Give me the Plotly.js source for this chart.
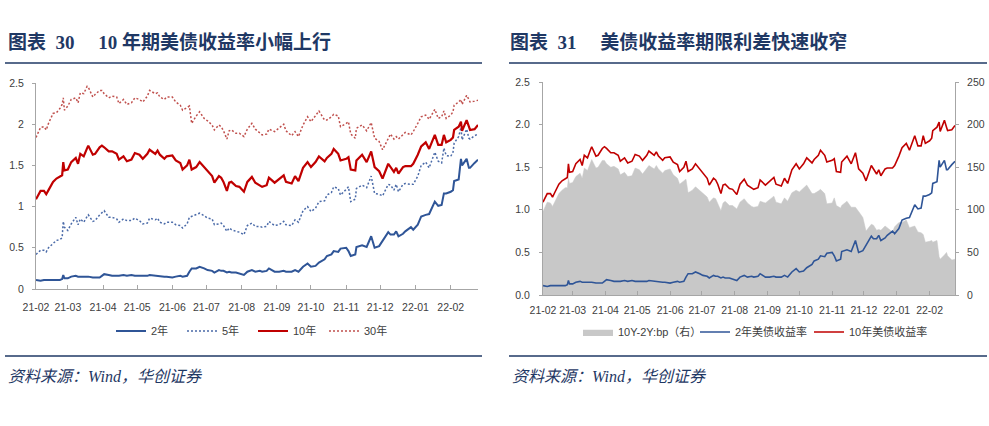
<!DOCTYPE html>
<html><head><meta charset="utf-8">
<script src="https://cdn.plot.ly/plotly-3.0.1.min.js"></script>
<style>html,body{margin:0;padding:0;background:#fff;}#chart{width:989px;height:426px;}</style>
</head><body><div id="chart"></div>
<script>
const dates = ["2021-02-01","2021-02-05","2021-02-08","2021-02-10","2021-02-12","2021-02-16","2021-02-19","2021-02-22","2021-02-24","2021-02-25","2021-02-26",
"2021-03-01","2021-03-04","2021-03-08","2021-03-10","2021-03-12","2021-03-15","2021-03-18","2021-03-19","2021-03-23","2021-03-25","2021-03-29","2021-03-31",
"2021-04-02","2021-04-06","2021-04-09","2021-04-13","2021-04-15","2021-04-19","2021-04-22","2021-04-26","2021-04-29",
"2021-05-03","2021-05-06","2021-05-10","2021-05-12","2021-05-17","2021-05-19","2021-05-21","2021-05-25","2021-05-27",
"2021-06-01","2021-06-04","2021-06-08","2021-06-10","2021-06-14","2021-06-16","2021-06-18","2021-06-22","2021-06-25","2021-06-29",
"2021-07-02","2021-07-06","2021-07-08","2021-07-12","2021-07-14","2021-07-16","2021-07-19","2021-07-21","2021-07-23","2021-07-27","2021-07-30",
"2021-08-03","2021-08-06","2021-08-10","2021-08-13","2021-08-17","2021-08-19","2021-08-23","2021-08-25","2021-08-30",
"2021-09-03","2021-09-07","2021-09-09","2021-09-14","2021-09-17","2021-09-20","2021-09-24","2021-09-28",
"2021-10-01","2021-10-05","2021-10-08","2021-10-13","2021-10-15","2021-10-19","2021-10-21","2021-10-25","2021-10-27",
"2021-11-01","2021-11-03","2021-11-05","2021-11-09","2021-11-10","2021-11-15","2021-11-19","2021-11-23","2021-11-26","2021-11-30",
"2021-12-03","2021-12-08","2021-12-10","2021-12-13","2021-12-15","2021-12-17","2021-12-21","2021-12-23","2021-12-28","2021-12-30",
"2022-01-03","2022-01-06","2022-01-10","2022-01-13","2022-01-18","2022-01-21","2022-01-24","2022-01-26","2022-01-28",
"2022-02-01","2022-02-03","2022-02-04","2022-02-08","2022-02-10","2022-02-11","2022-02-15","2022-02-17","2022-02-18","2022-02-22","2022-02-25"];

const yield2Y = [0.11,0.10,0.11,0.11,0.11,0.11,0.11,0.11,0.12,0.17,0.13,
0.13,0.15,0.16,0.15,0.15,0.15,0.15,0.15,0.14,0.14,0.14,0.16,
0.18,0.17,0.16,0.16,0.16,0.17,0.16,0.17,0.16,
0.16,0.16,0.16,0.17,0.16,0.16,0.15,0.15,0.15,
0.14,0.15,0.16,0.15,0.16,0.21,0.25,0.25,0.27,0.25,
0.23,0.22,0.20,0.23,0.22,0.22,0.20,0.21,0.20,0.20,0.19,
0.17,0.21,0.23,0.21,0.22,0.21,0.22,0.25,0.21,
0.21,0.22,0.21,0.21,0.23,0.21,0.27,0.31,
0.27,0.28,0.32,0.36,0.40,0.42,0.46,0.45,0.49,
0.50,0.46,0.40,0.42,0.51,0.53,0.51,0.64,0.50,0.52,
0.59,0.69,0.66,0.66,0.70,0.64,0.67,0.70,0.75,0.72,
0.78,0.88,0.90,0.91,1.06,1.01,1.02,1.16,1.16,
1.18,1.20,1.31,1.33,1.58,1.50,1.58,1.47,1.47,1.53,1.57];

const yield5Y = [0.42,0.47,0.47,0.45,0.50,0.55,0.59,0.60,0.62,0.82,0.75,
0.71,0.79,0.87,0.78,0.85,0.81,0.88,0.90,0.82,0.83,0.90,0.92,
0.95,0.87,0.87,0.85,0.81,0.85,0.83,0.83,0.86,
0.83,0.79,0.80,0.86,0.84,0.86,0.81,0.79,0.81,
0.81,0.78,0.77,0.74,0.79,0.87,0.88,0.90,0.92,0.89,
0.86,0.85,0.78,0.79,0.80,0.77,0.70,0.74,0.72,0.70,0.69,
0.66,0.77,0.80,0.76,0.76,0.75,0.76,0.82,0.77,
0.78,0.82,0.78,0.77,0.84,0.81,0.95,1.00,
0.94,0.98,1.06,1.07,1.14,1.17,1.24,1.22,1.14,
1.21,1.24,1.06,1.09,1.22,1.26,1.23,1.37,1.16,1.15,
1.13,1.27,1.26,1.20,1.27,1.18,1.27,1.28,1.27,1.27,
1.37,1.50,1.54,1.47,1.66,1.55,1.53,1.71,1.62,
1.61,1.66,1.77,1.85,1.96,1.81,1.94,1.83,1.82,1.86,1.88];

const yield10Y = [1.09,1.19,1.19,1.15,1.20,1.30,1.34,1.37,1.38,1.54,1.44,
1.45,1.54,1.59,1.52,1.64,1.61,1.71,1.74,1.63,1.64,1.72,1.74,
1.72,1.67,1.67,1.64,1.57,1.61,1.55,1.57,1.65,
1.63,1.58,1.64,1.69,1.64,1.68,1.63,1.58,1.61,
1.62,1.56,1.53,1.45,1.50,1.57,1.45,1.48,1.54,1.48,
1.43,1.37,1.29,1.37,1.35,1.30,1.19,1.29,1.30,1.25,1.24,
1.18,1.30,1.36,1.29,1.26,1.24,1.26,1.35,1.29,
1.33,1.38,1.30,1.28,1.37,1.31,1.47,1.54,
1.48,1.54,1.61,1.55,1.59,1.64,1.70,1.64,1.56,
1.58,1.60,1.45,1.44,1.56,1.63,1.54,1.67,1.48,1.43,
1.34,1.52,1.48,1.42,1.47,1.40,1.48,1.49,1.49,1.52,
1.63,1.73,1.78,1.70,1.87,1.75,1.75,1.87,1.78,
1.81,1.84,1.93,1.97,2.03,1.92,2.05,1.97,1.93,1.94,1.99];

const yield30Y = [1.84,1.96,1.97,1.93,2.01,2.13,2.14,2.19,2.24,2.32,2.17,
2.22,2.30,2.32,2.26,2.38,2.37,2.46,2.45,2.33,2.36,2.41,2.41,
2.37,2.32,2.34,2.33,2.25,2.30,2.24,2.26,2.32,
2.30,2.27,2.34,2.41,2.37,2.38,2.33,2.30,2.33,
2.33,2.27,2.23,2.17,2.20,2.22,2.01,2.10,2.15,2.07,
2.04,1.99,1.93,1.99,1.97,1.92,1.82,1.92,1.93,1.89,1.89,
1.85,1.94,2.01,1.94,1.90,1.87,1.88,1.94,1.91,
1.96,2.00,1.92,1.86,1.91,1.85,1.99,2.09,
2.03,2.10,2.16,2.05,2.05,2.09,2.12,2.10,1.97,
2.01,2.03,1.88,1.83,1.95,1.99,1.92,2.02,1.83,1.79,
1.69,1.84,1.88,1.82,1.85,1.82,1.87,1.90,1.87,1.91,
2.01,2.09,2.11,2.06,2.18,2.07,2.09,2.16,2.07,
2.11,2.15,2.23,2.27,2.30,2.24,2.35,2.30,2.27,2.28,2.29];

const spreadBp = [98,109,108,104,109,119,123,126,126,137,131,
132,139,143,137,149,146,156,159,149,150,158,158,
154,150,151,148,141,144,139,140,149,
147,142,148,152,148,152,148,143,146,
148,141,137,130,134,136,120,123,127,123,
120,115,109,114,113,108,99,108,110,105,105,
101,109,113,108,104,103,104,110,108,
112,116,109,107,114,110,120,123,
121,126,129,119,119,122,124,119,107,
108,114,105,102,105,110,103,103,98,91,
75,83,82,76,77,76,81,79,74,80,
85,85,88,79,81,74,73,71,62,
63,64,62,64,45,42,47,50,46,41,42];

const leftNames = ["2年","5年","10年","30年"];
const rightNames = ["10Y-2Y:bp（右）","2年美债收益率","10年美债收益率"];
const leftTitle = "图表\u00a0\u00a030\u00a0\u00a0\u00a0\u00a0\u00a010\u00a0年期美债收益率小幅上行";
const rightTitle = "图表\u00a0\u00a031\u00a0\u00a0\u00a0\u00a0\u00a0美债收益率期限利差快速收窄";
const sourceText = "资料来源：Wind，华创证券";

const W = 989, H = 426;
const px = v => v / W, py = v => 1 - v / H;
const navy = "#1f3864";
const axisGray = "#a6a6a6";
const tickFont = {family: "Liberation Sans, Noto Sans CJK SC", size: 10.5, color: "#404040"};
const legendFont = {family: "Liberation Sans, Noto Sans CJK SC", size: 11, color: "#404040"};
const xRange = ["2021-02-01", "2022-02-25"];

const blue = "#2f5597", red = "#c00000", blueDot = "#4a6aa8", redDot = "#c0504d";

const traces = [
  {x: dates, y: yield2Y, name: leftNames[0], xaxis: "x", yaxis: "y", mode: "lines", line: {color: blue, width: 2}, legend: "legend"},
  {x: dates, y: yield5Y, name: leftNames[1], xaxis: "x", yaxis: "y", mode: "lines", line: {color: blueDot, width: 1.5, dash: "2px,2px"}, legend: "legend"},
  {x: dates, y: yield10Y, name: leftNames[2], xaxis: "x", yaxis: "y", mode: "lines", line: {color: red, width: 2.2}, legend: "legend"},
  {x: dates, y: yield30Y, name: leftNames[3], xaxis: "x", yaxis: "y", mode: "lines", line: {color: redDot, width: 1.5, dash: "2px,2px"}, legend: "legend"},
  {x: dates, y: spreadBp, name: rightNames[0], xaxis: "x2", yaxis: "y2", mode: "lines", fill: "tozeroy", fillcolor: "#c8c8c8", line: {color: "#c8c8c8", width: 0.5}, legend: "legend2"},
  {x: dates, y: yield2Y, name: rightNames[1], xaxis: "x2", yaxis: "y3", mode: "lines", line: {color: blue, width: 1.6}, legend: "legend3"},
  {x: dates, y: yield10Y, name: rightNames[2], xaxis: "x2", yaxis: "y3", mode: "lines", line: {color: red, width: 1.6}, legend: "legend4"}
];

const xBase = {type: "date", range: xRange, dtick: "M1", tick0: "2021-02-01", tickformat: "%y-%m",
  ticks: "inside", ticklen: 4, tickcolor: axisGray, showline: true, linecolor: axisGray, linewidth: 1,
  showgrid: false, zeroline: false, tickfont: tickFont, fixedrange: true};
const yBase = {ticks: "outside", ticklen: 3, tickcolor: axisGray, showline: true, linecolor: axisGray, linewidth: 1,
  showgrid: false, zeroline: false, tickfont: tickFont, fixedrange: true};
const rightLegend = xLeft => ({orientation: "h", x: px(xLeft), xanchor: "left", y: py(332), yanchor: "middle",
  bgcolor: "rgba(0,0,0,0)", font: legendFont});

const layout = {
  width: W, height: H, margin: {l: 0, r: 0, t: 0, b: 0}, paper_bgcolor: "#fff", plot_bgcolor: "rgba(0,0,0,0)",
  font: {family: "Liberation Sans, Noto Sans CJK SC", color: "#404040"},
  hovermode: false,
  xaxis: Object.assign({}, xBase, {domain: [px(36), px(478)], anchor: "y", ticklabelstandoff: 8}),
  yaxis: Object.assign({}, yBase, {domain: [py(289), py(83)], anchor: "x", range: [0, 2.5], dtick: 0.5, ticklabelstandoff: 6}),
  xaxis2: Object.assign({}, xBase, {domain: [px(543), px(955)], anchor: "y2", ticklabelstandoff: 5}),
  yaxis2: Object.assign({}, yBase, {domain: [py(295), py(82)], anchor: "x2", side: "right", range: [0, 250], dtick: 50, ticklabelstandoff: 6}),
  yaxis3: Object.assign({}, yBase, {overlaying: "y2", anchor: "x2", side: "left", range: [0, 2.5], dtick: 0.5, tickformat: ".1f", ticklabelstandoff: 7}),
  legend: {orientation: "h", x: px(253), xanchor: "center", y: py(331), yanchor: "middle", bgcolor: "rgba(0,0,0,0)",
    font: legendFont, entrywidth: 26, traceorder: "normal"},
  legend2: rightLegend(578),
  legend3: rightLegend(695),
  legend4: rightLegend(809),
  shapes: [
    {type: "line", xref: "paper", yref: "paper", x0: px(5), x1: px(482), y0: py(63), y1: py(63), line: {color: navy, width: 1.5}},
    {type: "line", xref: "paper", yref: "paper", x0: px(509), x1: px(987), y0: py(63), y1: py(63), line: {color: navy, width: 1.5}},
    {type: "line", xref: "paper", yref: "paper", x0: px(5), x1: px(482), y0: py(356), y1: py(356), line: {color: navy, width: 1.5}},
    {type: "line", xref: "paper", yref: "paper", x0: px(509), x1: px(987), y0: py(356), y1: py(356), line: {color: navy, width: 1.5}}
  ],
  annotations: [
    {xref: "paper", yref: "paper", x: px(6), y: py(42), xanchor: "left", yanchor: "middle", showarrow: false,
      text: "<b>" + leftTitle + "</b>", font: {family: "Liberation Serif, Noto Sans CJK SC", size: 19, color: navy}},
    {xref: "paper", yref: "paper", x: px(508), y: py(42), xanchor: "left", yanchor: "middle", showarrow: false,
      text: "<b>" + rightTitle + "</b>", font: {family: "Liberation Serif, Noto Sans CJK SC", size: 19, color: navy}},
    {xref: "paper", yref: "paper", x: px(6), y: py(376), xanchor: "left", yanchor: "middle", showarrow: false,
      text: "<i>" + sourceText + "</i>", font: {family: "Liberation Serif, Noto Sans CJK SC", size: 16, color: navy}},
    {xref: "paper", yref: "paper", x: px(510), y: py(376), xanchor: "left", yanchor: "middle", showarrow: false,
      text: "<i>" + sourceText + "</i>", font: {family: "Liberation Serif, Noto Sans CJK SC", size: 16, color: navy}}
  ]
};

Plotly.newPlot("chart", traces, layout, {staticPlot: true, displayModeBar: false});
</script></body></html>
